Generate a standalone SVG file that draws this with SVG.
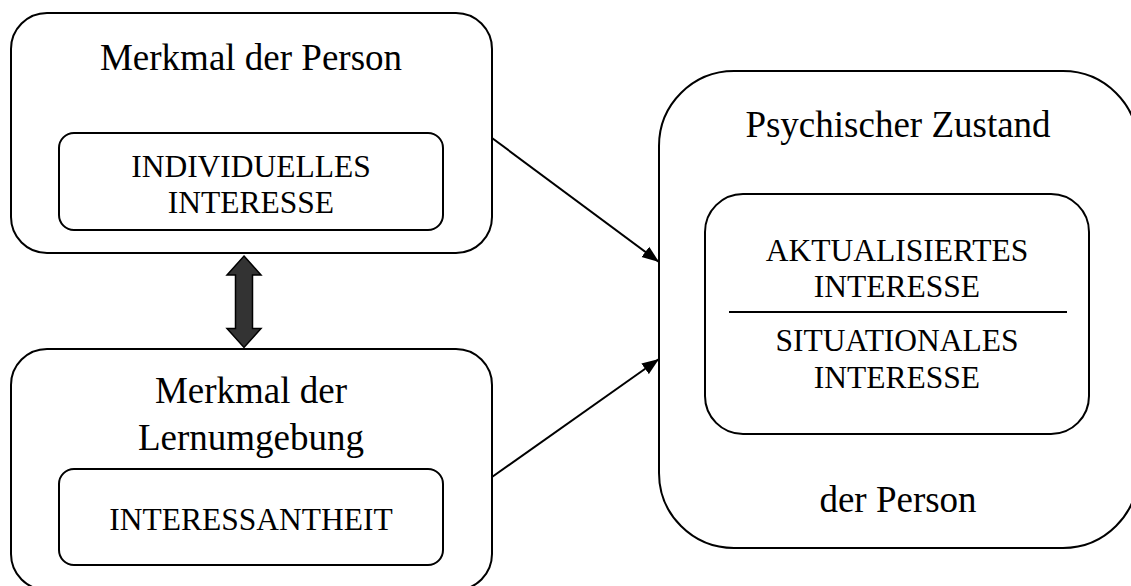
<svg xmlns="http://www.w3.org/2000/svg" width="1131" height="586" viewBox="0 0 1131 586">
<style>
.box{fill:#fff;stroke:#000;stroke-width:2}
.title{font-family:"Liberation Serif","Times New Roman",serif;font-size:37px;fill:#000;text-anchor:middle}
.inner{font-family:"Liberation Serif","Times New Roman",serif;font-size:31.5px;fill:#000;text-anchor:middle}
.conn{stroke:#000;stroke-width:2;fill:none}
</style>
<defs>
<marker id="ah" markerUnits="userSpaceOnUse" markerWidth="18" markerHeight="14" refX="17" refY="7" orient="auto">
<polygon points="0,0.5 17,7 0,13.5" fill="#000"/>
</marker>
</defs>
<rect width="1131" height="586" fill="#fff"/>
<g id="node-person">
<rect class="box" x="11" y="13" width="481" height="240" rx="36" ry="36"/>
<text class="title" x="251" y="70">Merkmal der Person</text>
<rect class="box" x="59" y="133" width="384" height="97" rx="15" ry="15"/>
<text class="inner" x="251" y="177">INDIVIDUELLES</text>
<text class="inner" x="251" y="213">INTERESSE</text>
</g>
<g id="node-lernumgebung">
<rect class="box" x="11" y="349" width="481" height="241" rx="36" ry="36"/>
<text class="title" x="251" y="403">Merkmal der</text>
<text class="title" x="251" y="450">Lernumgebung</text>
<rect class="box" x="59" y="469" width="384" height="96" rx="15" ry="15"/>
<text class="inner" x="251" y="530">INTERESSANTHEIT</text>
</g>
<g id="node-zustand">
<rect class="box" x="659" y="71" width="479" height="477" rx="75" ry="75"/>
<text class="title" x="898" y="137">Psychischer Zustand</text>
<rect class="box" x="705" y="194" width="384" height="240" rx="38" ry="38"/>
<text class="inner" x="897" y="261">AKTUALISIERTES</text>
<text class="inner" x="897" y="297">INTERESSE</text>
<line x1="729" y1="312" x2="1067" y2="312" stroke="#000" stroke-width="2"/>
<text class="inner" x="897" y="351">SITUATIONALES</text>
<text class="inner" x="897" y="388">INTERESSE</text>
<text class="title" x="898" y="512">der Person</text>
</g>
<g id="connectors">
<line class="conn" x1="492" y1="138" x2="659" y2="262" marker-end="url(#ah)"/>
<line class="conn" x1="492" y1="477" x2="659" y2="359" marker-end="url(#ah)"/>
<polygon points="244,256 261,275 252.5,275 252.5,328.5 261,328.5 244,347.5 227,328.5 235.5,328.5 235.5,275 227,275" fill="#333" stroke="#000" stroke-width="1.5" stroke-linejoin="miter"/>
</g>
</svg>
